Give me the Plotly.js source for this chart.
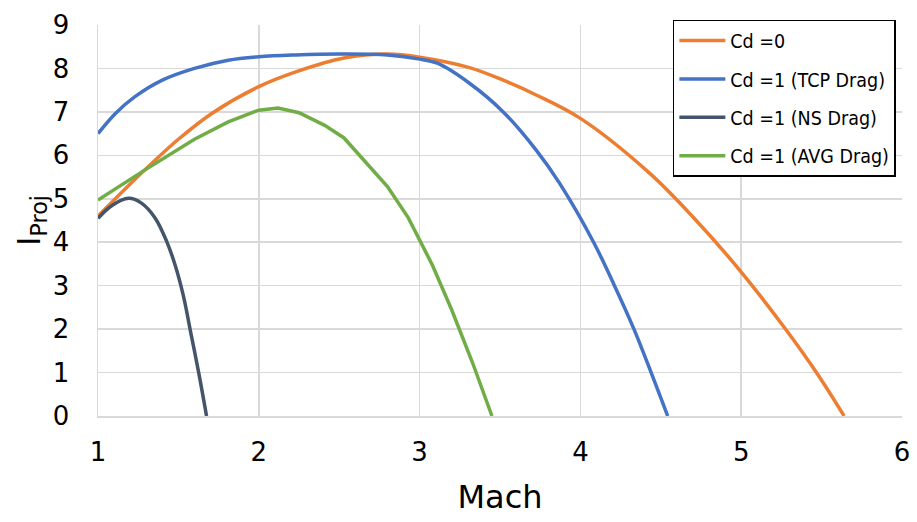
<!DOCTYPE html>
<html>
<head>
<meta charset="utf-8">
<script src="https://cdn.plot.ly/plotly-3.0.1.min.js"></script>
<style>html,body{margin:0;padding:0;background:#fff;}#chart{width:917px;height:522px;}</style>
</head>
<body>
<div id="chart"></div>
<script>
// Cd = 0
const machCd0 = [1.0, 1.29, 1.5, 1.71, 2.0, 2.23, 2.53, 2.8, 3.0, 3.31, 3.52, 3.725, 4.0, 4.43, 4.7, 4.99, 5.28, 5.47, 5.64];
const iprojCd0 = [4.6, 5.66, 6.37, 6.97, 7.58, 7.92, 8.24, 8.33, 8.26, 8.02, 7.73, 7.39, 6.85, 5.59, 4.58, 3.36, 1.98, 0.99, 0];
// Cd = 1 (TCP Drag)
const machTCP = [1.0, 1.11, 1.23, 1.4, 1.6, 1.81, 2.0, 2.23, 2.5, 2.8, 2.99, 3.11, 3.31, 3.52, 3.725, 3.87, 4.082, 4.212, 4.333, 4.44, 4.543];
const iprojTCP = [6.5, 6.97, 7.35, 7.73, 8.0, 8.19, 8.27, 8.31, 8.33, 8.31, 8.22, 8.12, 7.66, 7.0, 6.12, 5.36, 4.0, 3.0, 2.0, 1.0, 0];
// Cd = 1 (NS Drag)
const machNS = [1.0, 1.085, 1.19, 1.27, 1.355, 1.427, 1.48, 1.53, 1.58, 1.625, 1.675];
const iprojNS = [4.55, 4.84, 5.01, 4.9, 4.56, 4.02, 3.47, 2.78, 1.86, 1.02, 0];
// Cd = 1 (AVG Drag)
const machAVG = [1.0, 1.29, 1.6, 1.81, 2.0, 2.12, 2.25, 2.41, 2.53, 2.80, 2.93, 3.08, 3.20, 3.33, 3.45];
const iprojAVG = [4.97, 5.66, 6.37, 6.77, 7.04, 7.09, 6.98, 6.69, 6.40, 5.28, 4.56, 3.47, 2.44, 1.22, 0];

const seriesNames = ["Cd =0", "Cd =1 (TCP Drag)", "Cd =1 (NS Drag)", "Cd =1 (AVG Drag)"];
const xTicks = [1, 2, 3, 4, 5, 6];
const yTicks = [0, 1, 2, 3, 4, 5, 6, 7, 8, 9];

const colors = ["#ED7D31", "#4472C4", "#44546A", "#70AD47"];
const xs = [machCd0, machTCP, machNS, machAVG];
const ys = [iprojCd0, iprojTCP, iprojNS, iprojAVG];
const shapes = ["spline", "spline", "spline", "linear"];

const traces = xs.map((x, i) => ({
  x: x, y: ys[i], name: seriesNames[i], type: "scatter", mode: "lines",
  legendgroup: "g" + i,
  line: {color: colors[i], width: 3.5, shape: shapes[i], smoothing: 1},
  cliponaxis: true
}));

const FONT = "DejaVu Sans, Verdana, sans-serif";
const layout = {
  width: 917, height: 522,
  margin: {l: 98, r: 15, t: 25, b: 106},
  paper_bgcolor: "#fff", plot_bgcolor: "#fff",
  font: {family: FONT, color: "#000"},
  showlegend: true,
  legend: {
    x: 0.715, y: 1.013, xanchor: "left", yanchor: "top",
    bgcolor: "#fff", bordercolor: "#000", borderwidth: 1.5,
    font: {family: "DejaVu Sans Condensed, DejaVu Sans, sans-serif", size: 19.5, color: "#000"},
    tracegroupgap: 10,
    itemwidth: 46
  },
  xaxis: {
    range: [1, 6], tickvals: xTicks, ticktext: xTicks.map(String),
    showgrid: true, gridcolor: "#d9d9d9", gridwidth: 1.5,
    showline: true, linecolor: "#d9d9d9", linewidth: 1.5, mirror: false,
    zeroline: false, ticks: "", ticklabelstandoff: 12,
    tickfont: {size: 26, family: FONT},
    title: {text: "Mach", font: {size: 32, family: FONT}, standoff: 20}
  },
  yaxis: {
    range: [0, 9], tickvals: yTicks, ticktext: yTicks.map(String),
    showgrid: true, gridcolor: "#d9d9d9", gridwidth: 1.5,
    showline: true, linecolor: "#d9d9d9", linewidth: 1.5,
    zeroline: false, ticks: "", ticklabelstandoff: 22,
    tickfont: {size: 26, family: FONT},
    title: {text: "I<sub>Proj</sub>", font: {size: 32, family: FONT}, standoff: 2}
  }
};

Plotly.newPlot("chart", traces, layout, {displayModeBar: false, staticPlot: true});
</script>
</body>
</html>
